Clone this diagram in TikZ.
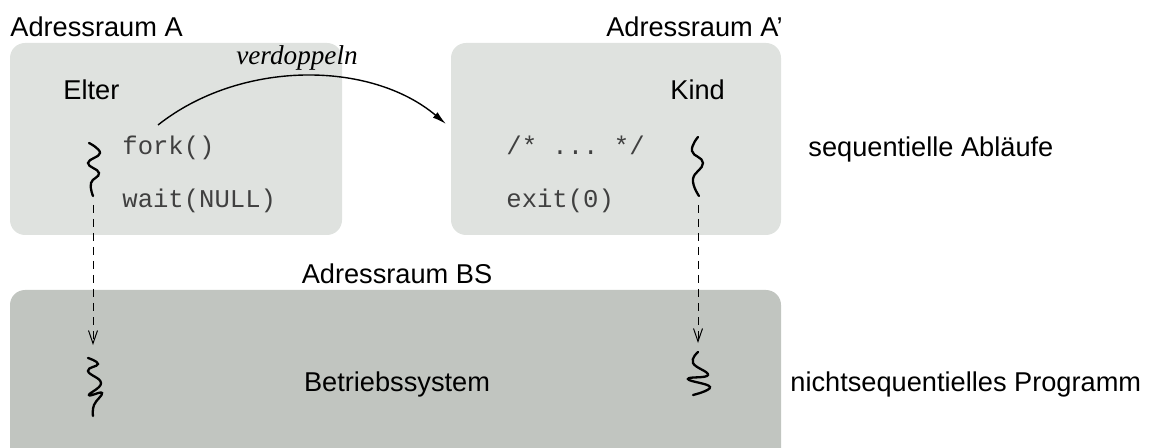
\documentclass[tikz,border=0pt]{standalone}
\usepackage{fontspec}
\setmainfont{Liberation Sans}
\setmonofont{Liberation Mono}
\newfontfamily\serifit{Liberation Serif}
\usetikzlibrary{arrows.meta}
\usetikzlibrary{positioning}
\definecolor{spacelight}{HTML}{DFE2DF}
\definecolor{spacedark}{HTML}{C1C5C0}

\begin{document}
\begin{tikzpicture}[x=0.5pt,y=-0.5pt,
    space/.style={rounded corners=7.5pt},
    txt/.style={anchor=base west,inner sep=0pt,font=\fontsize{13.6}{15}\selectfont},
    code/.style={anchor=base west,inner sep=0pt,text=black!75,font=\fontsize{12.8}{15}\selectfont\ttfamily},
    thread/.style={line width=1.15pt,line cap=round},
    wakeup/.style={line width=0.5pt,dash pattern=on 4pt off 3pt,-{Straight Barb[length=6.5pt,width=4.5pt]}}
    ]
\useasboundingbox (0,0) rectangle (1165,448);

\fill[spacelight,space] (10,43) rectangle (342,235);
\fill[spacelight,space] (451,43) rectangle (781,235);
\fill[spacedark,space] (10,290) rectangle (781,470);

\node[txt] (adrA) at (10,37) {Adressraum A};
\node[txt,anchor=base east] (adrAp) at (783,37) {Adressraum A'};
\node[txt,anchor=base] (adrBS) at (397,284) {Adressraum BS};

\node[txt] (elter) at (63,99.5) {Elter};
\node[txt] (kind) at (670,99.5) {Kind};
\node[code] (fork) at (122,155) {fork()};
\node[code] (wait) at (122,208) {wait(NULL)};
\node[code] (dots) at (506,155) {/* ... */};
\node[code] (exit) at (506,208) {exit(0)};
\node[txt,anchor=base] (bs) at (397,391) {Betriebssystem};

\node[txt] (seq) at (808,157) {sequentielle Abläufe};
\node[txt] (nseq) at (790,391) {nichtsequentielles Programm};

% verdoppeln
\coordinate (forkout) at (158,125);
\coordinate (kindin) at (446,124);
\draw[line width=0.7pt,-{Latex[length=7pt,width=3.6pt]}] (forkout) .. controls (240,60) and (370,60) .. (kindin);
\node[anchor=base,inner sep=0pt,font=\fontsize{13.6}{15}\selectfont\serifit\itshape] (dup) at (297,65) {verdoppeln};

% Faeden
\draw[thread] plot[smooth,tension=0.8] coordinates {(89,143) (100,153) (88,163) (99,173) (91,183) (93,196)};
\draw[thread] plot[smooth,tension=0.8] coordinates {(698,137) (692,151) (703,163) (693,179) (699,196)};
\draw[thread] plot[smooth,tension=0.8] coordinates {(88,358) (98,364) (88,371) (101,383) (89,395) (102,393) (94,405) (93,416)};
\draw[thread] plot[smooth,tension=0.8] coordinates {(698,352) (693,363) (708,375) (688,379) (710,387) (693,395)};

\coordinate (eltertop) at (93,205);
\coordinate (elterbot) at (93,345);
\coordinate (kindtop) at (698,205);
\coordinate (kindbot) at (698,343);
\draw[wakeup] (eltertop) -- (elterbot);
\draw[wakeup] (kindtop) -- (kindbot);
\end{tikzpicture}
\end{document}
